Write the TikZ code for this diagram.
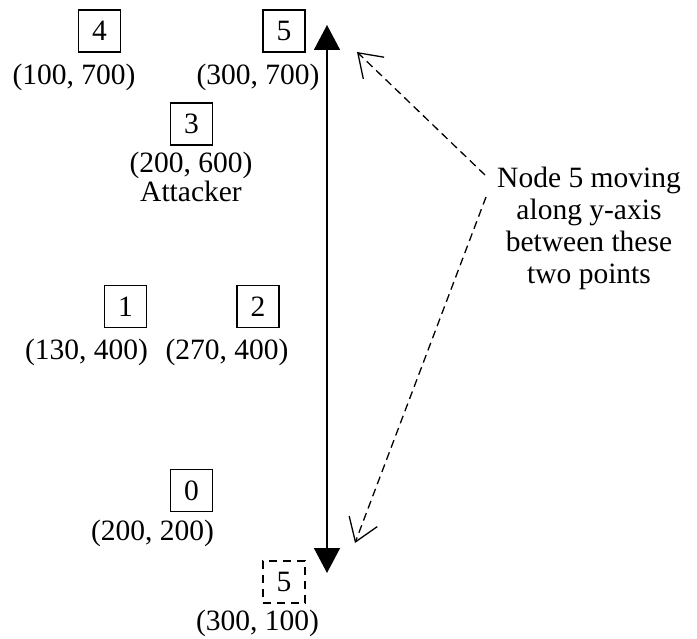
\documentclass[tikz,border=0pt]{standalone}
\usepackage{fontspec}
\setmainfont{Liberation Serif}
\usetikzlibrary{arrows.meta}
\begin{document}
\begin{tikzpicture}[x=1pt,y=-1pt,
  every node/.style={font=\fontsize{29.5}{32}\selectfont},
  nodebox/.style={draw,line width=1.3pt,minimum size=42pt,inner sep=0pt},
  ghostbox/.style={nodebox,dash pattern=on 8pt off 6pt},
  coord/.style={anchor=base,inner sep=0pt},
  motion/.style={line width=1.7pt,{Triangle[length=25pt,width=26pt]}-{Triangle[length=25pt,width=26pt]}},
  pointer/.style={line width=1.3pt,dash pattern=on 8pt off 5pt,-{Straight Barb[length=22pt,width=30pt,line width=1.3pt]}}]
\useasboundingbox (0,0) rectangle (697,639);
% nodes
\node[nodebox] (n4) at (99.5,31) {4};
\node[coord] (l4) at (74,85) {(100, 700)};
\node[nodebox] (n5) at (284,31) {5};
\node[coord] (l5) at (258,85) {(300, 700)};
\node[nodebox] (n3) at (191.5,124) {3};
\node[coord] (l3) at (191,173) {(200, 600)};
\node[coord] (a3) at (191,202) {Attacker};
\node[nodebox] (n1) at (125.5,306.5) {1};
\node[coord] (l1) at (86.5,360) {(130, 400)};
\node[nodebox] (n2) at (258,306.5) {2};
\node[coord] (l2) at (227,360) {(270, 400)};
\node[nodebox] (n0) at (191.5,490.5) {0};
\node[coord] (l0) at (152.5,540) {(200, 200)};
\node[ghostbox] (n5b) at (284,582) {5};
\node[coord] (l5b) at (257.5,630) {(300, 100)};
% motion arrow
\coordinate (top) at (327,25);
\coordinate (bot) at (327,573);
\draw[motion] (bot) -- (top);
% annotation
\node[align=center,inner sep=0pt] (note) at (589,228) {Node 5 moving\\along y-axis\\between these\\two points};
\coordinate (s1) at (485,175);
\coordinate (t1) at (357,52);
\coordinate (s2) at (486,197);
\coordinate (t2) at (355,543);
\draw[pointer] (s1) -- (t1);
\draw[pointer] (s2) -- (t2);
\end{tikzpicture}
\end{document}
